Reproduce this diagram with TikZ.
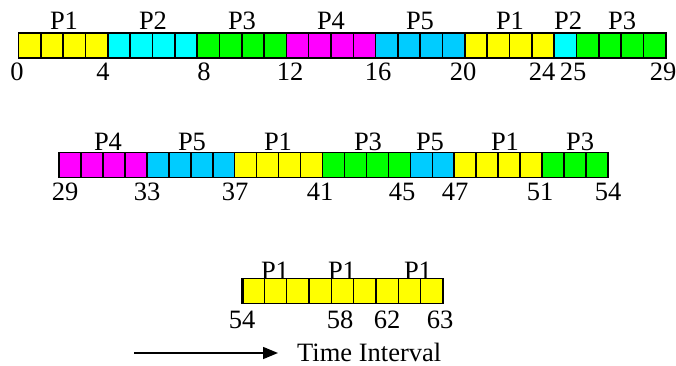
\documentclass[tikz,border=0pt]{standalone}
\usepackage{fontspec}
\setmainfont{Liberation Serif}
\usetikzlibrary{arrows.meta}
\definecolor{pone}{RGB}{255,255,0}
\definecolor{ptwo}{RGB}{0,255,255}
\definecolor{pthree}{RGB}{0,255,0}
\definecolor{pfour}{RGB}{255,0,255}
\definecolor{pfive}{RGB}{0,204,255}
\tikzset{
    cell/.style={draw, line width=1.6pt, minimum height=25pt, inner sep=0pt, outer sep=0pt},
    lbl/.style={inner sep=0pt, font=\fontsize{26.5}{31}\selectfont}
}
\begin{document}
\begin{tikzpicture}[x=1pt, y=-1pt]
    \useasboundingbox (0,0) rectangle (676,366);
    % first row: 0 .. 29
    \foreach \s/\n/\col in {0/4/pone,4/4/ptwo,8/4/pthree,12/4/pfour,16/4/pfive,20/4/pone,24/1/ptwo,25/4/pthree}
        \foreach \k in {1,...,\n} {
            \pgfmathtruncatemacro\j{\s+\k-1}
            \node [cell, fill=\col, minimum width=22.32pt] (a\j) at ({18.5+22.32*(\j+0.5)},45.8) {};
        }
    \foreach \p/\x [count=\i] in {P1/64,P2/153,P3/242,P4/331,P5/420,P1/510,P2/568,P3/622}
        \node [lbl] (pa\i) at (\x,20.5) {\p};
    \foreach \t/\x in {0/17,4/103,8/204,12/290,16/378,20/463,24/542,25/573,29/663}
        \node [lbl] (ta\t) at (\x,72) {\t};
    % second row: 29 .. 54
    \foreach \s/\n/\col in {0/4/pfour,4/4/pfive,8/4/pone,12/4/pthree,16/2/pfive,18/4/pone,22/3/pthree}
        \foreach \k in {1,...,\n} {
            \pgfmathtruncatemacro\j{\s+\k-1}
            \node [cell, fill=\col, minimum width=21.96pt] (b\j) at ({59+21.96*(\j+0.5)},165) {};
        }
    \foreach \p/\x [count=\i] in {P4/108,P5/192,P1/278,P3/368,P5/430,P1/505,P3/580}
        \node [lbl] (pb\i) at (\x,142) {\p};
    \foreach \t/\x in {29/65,33/147,37/235,41/320,45/402,47/455,51/540,54/608}
        \node [lbl] (tb\t) at (\x,192) {\t};
    % third row: 54 .. 63
    \foreach \j in {0,...,8}
        \node [cell, fill=pone, minimum width=22.33pt] (c\j) at ({242+22.33*(\j+0.5)},291) {};
    \draw [line width=3pt] (c0.north west) -- (c0.south west);
    \foreach \p/\x [count=\i] in {P1/275,P1/342,P1/418}
        \node [lbl] (pc\i) at (\x,270.5) {\p};
    \foreach \t/\x in {54/242,58/340,62/387,63/440}
        \node [lbl] (tc\t) at (\x,320) {\t};
    % time axis
    \coordinate (tail) at (134,353);
    \node [lbl, anchor=west] (time) at (297,352) {Time Interval};
    \draw [line width=1.5pt, -{Triangle[length=15pt,width=12pt]}] (tail) -- ([xshift=-19pt]time.west |- tail);
\end{tikzpicture}
\end{document}
